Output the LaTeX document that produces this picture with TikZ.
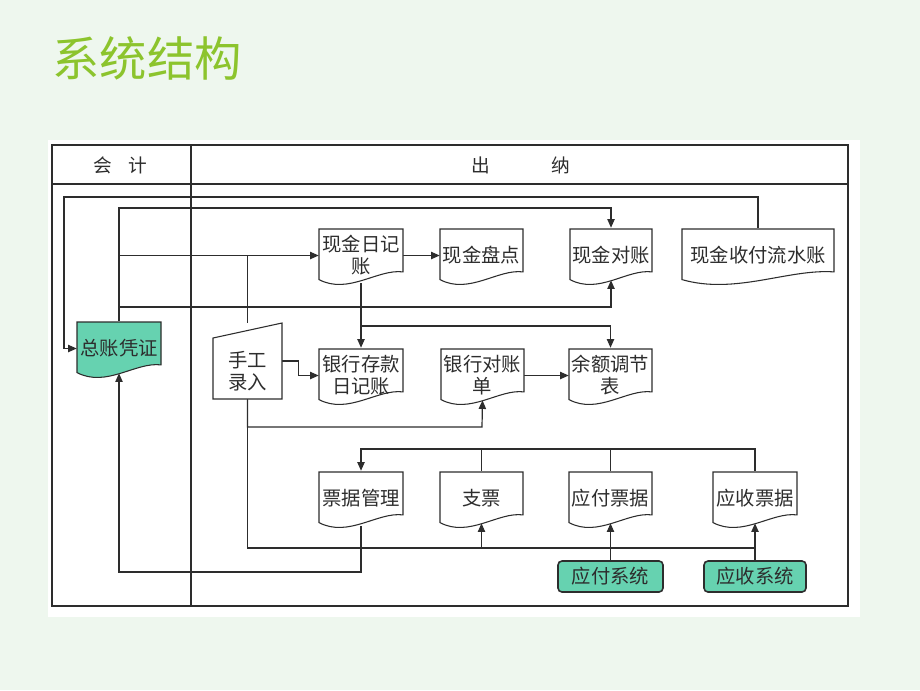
\documentclass[tikz,border=0pt]{standalone}
\usepackage{fontspec}
\newfontfamily\cjk{Noto Sans CJK SC}
\usetikzlibrary{arrows.meta,calc}
\pgfdeclarelayer{bg}
\pgfdeclarelayer{lines}
\pgfsetlayers{bg,lines,main}
\definecolor{bgc}{RGB}{238,247,238}
\definecolor{ttl}{RGB}{140,196,45}
\definecolor{teal1}{RGB}{102,210,176}
\definecolor{ln}{RGB}{45,45,45}
\tikzset{
  conn/.style={draw=ln, line width=0.9pt},
  arr/.style={conn, -{Triangle[length=6.5pt,width=5.5pt]}},
  doctext/.style={font=\cjk\fontsize{14.5}{16.5}\selectfont, text=ln, align=center, inner sep=0pt},
  docshape/.style={draw=ln, line width=0.8pt},
  sysbox/.style={draw=ln, line width=1.2pt, fill=teal1, rounded corners=3pt, font=\cjk\fontsize{14.5}{16.5}\selectfont, text=ln, inner sep=0pt},
}
% #1 fill, #2 name, #3 x1, #4 y1, #5 x2, #6 y2, #7 text
\newcommand\docnode[7][white]{%
  \draw[docshape, fill=#1] (#3,#4) -- (#5,#4) -- (#5,{#4+0.78*(#6-#4)})
     .. controls ({#5-0.3*(#5-#3)},{#4+0.72*(#6-#4)}) and ({#3+0.35*(#5-#3)},{#4+1.2*(#6-#4)}) .. (#3,{#4+0.92*(#6-#4)}) coordinate[pos=0.5] (#2-b) -- cycle;
  \node[doctext, minimum width={(#5-#3)*0.75pt}, minimum height={(#6-#4)*0.75pt}] (#2) at ({(#3+#5)/2},{(#4+#6)/2-1}) {#7};
}
\begin{document}
\begin{tikzpicture}[x=0.75pt,y=-0.75pt]
\useasboundingbox (0,0) rectangle (920,690);
\begin{pgfonlayer}{bg}
  \fill[bgc] (0,0) rectangle (920,690);
  \fill[white] (48,140) rectangle (860,617);
  \draw[ln, line width=1.6pt] (52,145) rectangle (848,606);
  \draw[ln, line width=0.8pt] (52,184) -- (848,184);
  \draw[ln, line width=0.8pt] (191,145) -- (191,606);
\end{pgfonlayer}

\node[font=\cjk\fontsize{35.5}{40}\selectfont, text=ttl, inner sep=0pt] (title) at (147,58) {系统结构};
\node[font=\cjk\fontsize{14}{16}\selectfont, text=ln, inner sep=0pt] (hk) at (120.5,165) {会\hspace{12pt}计};
\node[font=\cjk\fontsize{14}{16}\selectfont, text=ln, inner sep=0pt] (hc) at (520.5,165) {出\hspace{46pt}纳};

\docnode{xjrj}{319}{229}{403}{284}{现金日记\\账}
\docnode{xjpd}{440}{229}{523}{284}{现金盘点}
\docnode{xjdz}{570}{229}{652}{284}{现金对账}
\docnode{lsz}{682}{229}{834}{284}{现金收付流水账}
\docnode[teal1]{zz}{77}{322}{161}{377}{总账凭证}
\docnode{yhck}{319}{349}{403}{404}{银行存款\\日记账}
\docnode{yhdz}{441}{349}{524}{404}{银行对账\\单}
\docnode{yetj}{569}{349}{652}{404}{余额调节\\表}
\docnode{pjgl}{319}{472}{403}{527}{票据管理}
\docnode{zp}{440}{472}{523}{527}{支票}
\docnode{yfpj}{569}{472}{652}{527}{应付票据}
\docnode{yspj}{713}{472}{797}{527}{应收票据}

% manual input
\draw[docshape, fill=white] (213,338) -- (282,323) -- (282,399) -- (213,399) -- cycle;
\node[inner sep=0pt, minimum width=69*0.75pt, minimum height=76*0.75pt] (sgr) at (247.5,361) {};
\node[doctext] (sgrt) at (247.5,371) {手工\\录入};

\node[sysbox, minimum width=105*0.75pt, minimum height=31*0.75pt] (yfxt) at (610.5,576.5) {应付系统};
\node[sysbox, minimum width=102*0.75pt, minimum height=31*0.75pt] (ysxt) at (755,576.5) {应收系统};

\begin{pgfonlayer}{lines}
\coordinate (c1) at (64,197);
\draw[arr] (lsz.north) |- (c1) |- (zz.west);
\coordinate (c2) at (611,208);
\draw[arr] (zz.north) |- (c2) -- (xjdz.north);
\draw[arr] (zz.north |- xjrj.west) -- (xjrj.west);
\coordinate (c4) at (119,307);
\draw[arr] (c4) -| (xjdz.south |- xjdz-b);
\draw[conn] (xjrj.west -| sgr.north) -- (sgr.north);
\draw[arr] (xjrj.east) -- (xjpd.west);
\draw[arr] (xjrj.south) -- (yhck.north);
\coordinate (c8) at (361,326);
\draw[arr] (c8) -| (yetj.north);
\draw[arr] (sgr.east) -- ++(16,0) |- (yhck.west);
\coordinate (c10) at (482,427);
\draw[arr] (sgr.south) |- (c10) -- (yhdz.south |- yhdz-b);
\coordinate (c11) at (247.5,548);
\coordinate (c11e) at (755,548);
\draw[conn] (sgr.south) -- (c11) -- (c11e);
\draw[arr] (zp.south |- c11) -- (zp.south |- zp-b);
\draw[arr] (yfxt.north) -- (yfpj.south |- yfpj-b);
\draw[arr] (ysxt.north) -- (yspj.south |- yspj-b);
\coordinate (c13) at (361,449);
\draw[arr] (yspj.north) |- (c13) -- (pjgl.north);
\draw[conn] (zp.north) -- (zp.north |- c13);
\draw[conn] (yfpj.north) -- (yfpj.north |- c13);
\coordinate (c14) at (361,572);
\draw[arr] (pjgl.south) -- (c14) -| (zz.south |- zz-b);
\draw[arr] (yhdz.east) -- (yetj.west);
\end{pgfonlayer}
\end{tikzpicture}
\end{document}
